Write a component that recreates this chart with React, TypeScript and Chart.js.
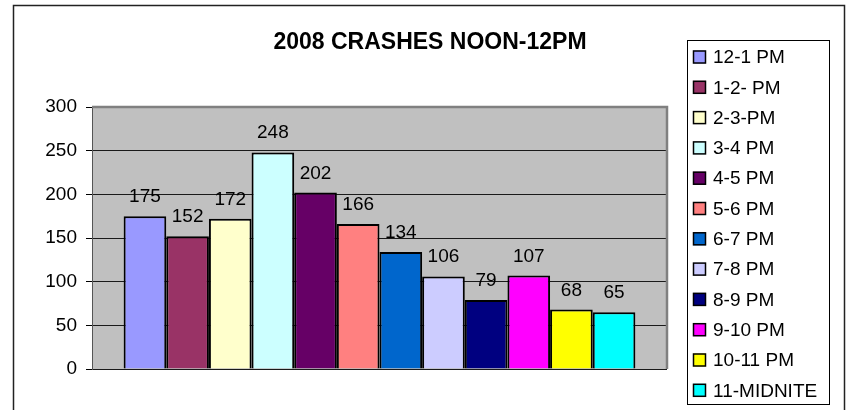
import React, { useEffect, useRef } from "react";
import { Chart, registerables } from "chart.js";

Chart.register(...registerables);

const TITLE = "2008 CRASHES NOON-12PM";
const CATEGORIES = [""];
const SERIES_LABELS = [
  "12-1 PM",
  "1-2- PM",
  "2-3-PM",
  "3-4 PM",
  "4-5 PM",
  "5-6 PM",
  "6-7 PM",
  "7-8 PM",
  "8-9 PM",
  "9-10 PM",
  "10-11 PM",
  "11-MIDNITE",
];
const SERIES_VALUES = [175, 152, 172, 248, 202, 166, 134, 106, 79, 107, 68, 65];
const SERIES_COLORS = [
  "#9999FF",
  "#993366",
  "#FFFFCC",
  "#CCFFFF",
  "#660066",
  "#FF8080",
  "#0066CC",
  "#CCCCFF",
  "#000080",
  "#FF00FF",
  "#FFFF00",
  "#00FFFF",
];
const Y_MIN = 0;
const Y_MAX = 300;
const Y_STEP = 50;

const FONT = '"Liberation Sans", Arial, sans-serif';

const decorPlugin = {
  id: "decor",
  beforeDraw(chart: any) {
    const { ctx, chartArea, width, height } = chart;
    ctx.save();
    ctx.fillStyle = "#ffffff";
    ctx.fillRect(0, 0, width, height);
    // outer frame
    ctx.strokeStyle = "#222";
    ctx.lineWidth = 1.5;
    ctx.strokeRect(13.5, 5.5, 831, 430);
    // plot area background
    ctx.fillStyle = "#C0C0C0";
    ctx.fillRect(chartArea.left, chartArea.top, chartArea.right - chartArea.left, chartArea.bottom - chartArea.top);
    ctx.restore();
  },
  beforeDatasetsDraw(chart: any) {
    const { ctx, chartArea } = chart;
    ctx.save();
    ctx.strokeStyle = "#808080";
    ctx.lineWidth = 2.5;
    ctx.beginPath();
    ctx.moveTo(chartArea.left, chartArea.top);
    ctx.lineTo(chartArea.right, chartArea.top);
    ctx.lineTo(chartArea.right, chartArea.bottom);
    ctx.stroke();
    ctx.restore();
  },
  afterDatasetsDraw(chart: any) {
    const { ctx } = chart;
    ctx.save();
    ctx.font = `19px ${FONT}`;
    ctx.fillStyle = "#000";
    ctx.textAlign = "center";
    ctx.textBaseline = "alphabetic";
    chart.data.datasets.forEach((ds: any, i: number) => {
      const meta = chart.getDatasetMeta(i);
      meta.data.forEach((el: any, j: number) => {
        ctx.fillText(String(ds.data[j]), el.x, el.y - 14);
      });
    });
    ctx.restore();
  },
  afterDraw(chart: any) {
    const { ctx } = chart;
    ctx.save();
    // title
    ctx.font = `bold 23px ${FONT}`;
    ctx.fillStyle = "#000";
    ctx.textAlign = "center";
    ctx.textBaseline = "middle";
    ctx.fillText(TITLE, 430, 43);
    // legend
    const lx = 687, ly = 40, lw = 142, lh = 364;
    ctx.strokeStyle = "#000";
    ctx.lineWidth = 1;
    ctx.strokeRect(lx + 0.5, ly + 0.5, lw, lh);
    ctx.font = `19px ${FONT}`;
    ctx.textAlign = "left";
    chart.data.datasets.forEach((ds: any, i: number) => {
      const cy = 57 + i * 30.3;
      ctx.fillStyle = ds.backgroundColor;
      ctx.fillRect(693, cy - 6.5, 13, 13);
      ctx.strokeStyle = "#000";
      ctx.lineWidth = 1.5;
      ctx.strokeRect(693.5, cy - 6, 12, 12);
      ctx.fillStyle = "#000";
      ctx.fillText(ds.label, 713, cy + 1);
    });
    ctx.restore();
  },
};

export default function App() {
  const ref = useRef<HTMLCanvasElement | null>(null);
  useEffect(() => {
    if (!ref.current) return;
    const chart = new Chart(ref.current, {
      type: "bar",
      data: {
        labels: CATEGORIES,
        datasets: SERIES_LABELS.map((label, i) => ({
          label,
          data: [SERIES_VALUES[i]],
          backgroundColor: SERIES_COLORS[i],
          borderColor: "#000",
          borderWidth: 2,
          barPercentage: 1,
          categoryPercentage: 0.89,
        })),
      },
      options: {
        animation: false,
        responsive: false,
        layout: { padding: { left: 32, top: 107, right: 182, bottom: 41 } },
        plugins: {
          legend: { display: false },
          title: { display: false },
          tooltip: { enabled: false },
        },
        scales: {
          x: { display: false },
          y: {
            min: Y_MIN,
            max: Y_MAX,
            ticks: {
              stepSize: Y_STEP,
              color: "#000",
              padding: 9,
              font: { family: FONT, size: 19 },
            },
            grid: {
              color: (c: any) => (c.tick && c.tick.value === Y_MAX ? "rgba(0,0,0,0)" : "#1a1a1a"),
              tickColor: "#000",
              tickLength: 6,
              lineWidth: 1,
            },
            border: { display: true, color: "#555", width: 1 },
            afterFit: (s: any) => {
              s.width = 60;
            },
          },
        },
      },
      plugins: [decorPlugin],
    });
    return () => chart.destroy();
  }, []);
  return (
    <div style={{ position: "absolute", left: 0, top: 0, width: 849, height: 410 }}>
      <canvas ref={ref} width={849} height={410} style={{ width: 849, height: 410 }} />
    </div>
  );
}
